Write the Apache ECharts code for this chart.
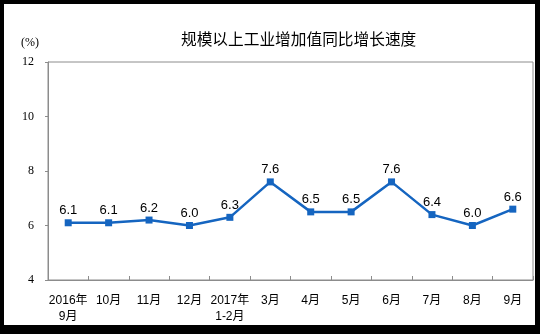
<!DOCTYPE html>
<html>
<head>
<meta charset="utf-8">
<script src="https://cdn.jsdelivr.net/npm/echarts@6/dist/echarts.min.js"></script>
<style>
  html, body { margin: 0; padding: 0; background: #000; width: 540px; height: 334px; overflow: hidden; }
  #chart { position: absolute; left: 4px; top: 4px; width: 531px; height: 321px; background: #fff; }
</style>
</head>
<body>
<div id="chart"></div>
<script>
// Monthly year-on-year growth of value added of industry above designated size (%)
const months = ['2016年\n9月', '10月', '11月', '12月', '2017年\n1-2月', '3月', '4月', '5月', '6月', '7月', '8月', '9月'];
const growth = [6.1, 6.1, 6.2, 6.0, 6.3, 7.6, 6.5, 6.5, 7.6, 6.4, 6.0, 6.6];
const yTicks = { min: 4, max: 12, step: 2 };
const titleText = '规模以上工业增加值同比增长速度';
const unitText = '(%)';

const chart = echarts.init(document.getElementById('chart'), null, { renderer: 'canvas' });

chart.setOption({
  animation: false,
  backgroundColor: '#fff',
  title: {
    text: titleText,
    left: 172,
    top: 22,
    textStyle: {
      fontFamily: '"Noto Sans CJK SC", sans-serif',
      fontSize: 15.7,
      fontWeight: 'normal',
      color: '#000'
    }
  },
  grid: {
    left: 44,
    top: 58,
    right: 2,
    bottom: 41,
    show: true,
    borderColor: '#8c8c8c',
    borderWidth: 1,
    backgroundColor: 'transparent'
  },
  xAxis: {
    type: 'category',
    data: months,
    boundaryGap: true,
    axisLine: { show: true, lineStyle: { color: '#8c8c8c', width: 1 } },
    axisTick: { show: true, inside: true, length: 4, lineStyle: { color: '#8c8c8c' } },
    axisLabel: {
      interval: 0,
      margin: 13,
      fontSize: 12,
      lineHeight: 16,
      color: '#000',
      fontFamily: '"Liberation Sans", "Noto Sans CJK SC", sans-serif'
    },
    splitLine: { show: false }
  },
  yAxis: {
    type: 'value',
    min: yTicks.min,
    max: yTicks.max,
    interval: yTicks.step,
    name: unitText,
    nameLocation: 'end',
    nameGap: 13,
    nameTextStyle: {
      align: 'right',
      padding: [0, 9, 0, 0],
      fontSize: 12,
      color: '#000',
      fontFamily: '"Liberation Serif", "DejaVu Serif", serif'
    },
    axisLine: { show: true, lineStyle: { color: '#8c8c8c', width: 1 } },
    axisTick: { show: true, inside: false, length: 3, lineStyle: { color: '#8c8c8c' } },
    axisLabel: {
      margin: 14,
      fontSize: 12,
      color: '#000',
      fontFamily: '"Liberation Serif", "DejaVu Serif", serif'
    },
    splitLine: { show: false }
  },
  series: [{
    type: 'line',
    data: growth,
    symbol: 'rect',
    symbolSize: 7,
    lineStyle: { color: '#1565c0', width: 2.5 },
    itemStyle: { color: '#1565c0' },
    label: {
      show: true,
      position: 'top',
      distance: 2,
      fontSize: 13,
      color: '#000',
      fontFamily: '"Liberation Sans", Arial, sans-serif',
      formatter: p => p.value.toFixed(1)
    }
  }]
});
</script>
</body>
</html>
